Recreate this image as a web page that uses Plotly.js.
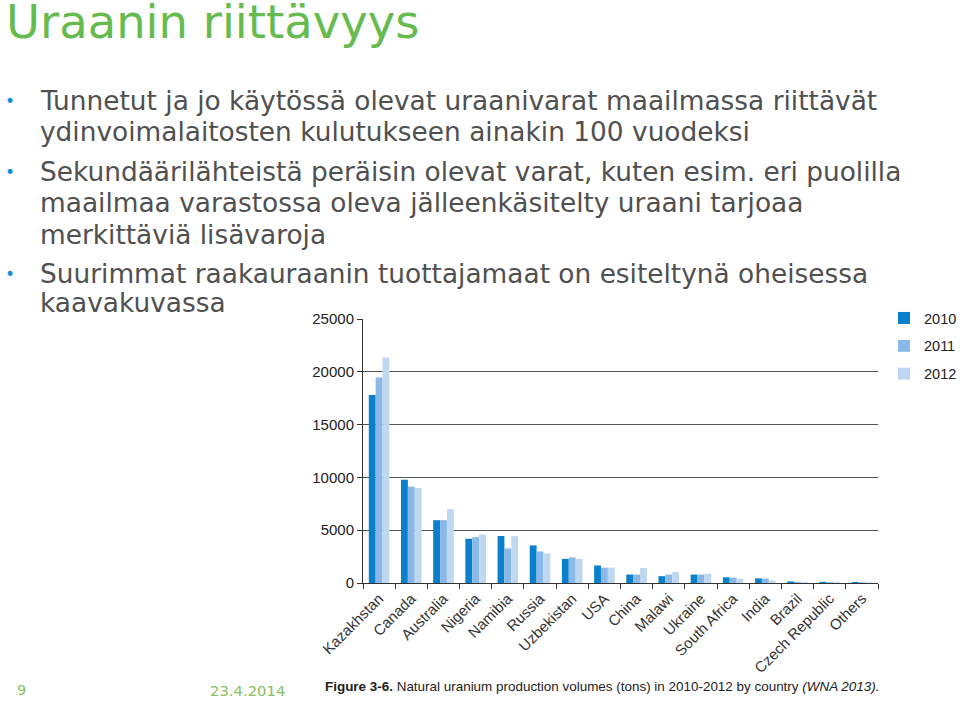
<!DOCTYPE html>
<html>
<head>
<meta charset="utf-8">
<script src="https://cdn.plot.ly/plotly-3.0.1.min.js"></script>
<style>html,body{margin:0;padding:0;background:#fff;}#chart{width:960px;height:702px;}</style>
</head>
<body>
<div id="chart"></div>
<script>
// ---- data ----
var countries = ["Kazakhstan","Canada","Australia","Nigeria","Namibia","Russia","Uzbekistan","USA","China","Malawi","Ukraine","South Africa","India","Brazil","Czech Republic","Others"];
var years = ["2010","2011","2012"];
var prod2010 = [17800, 9780, 5950, 4190, 4450, 3560, 2290, 1660, 800, 650, 800, 540, 440, 150, 110, 100];
var prod2011 = [19470, 9130, 5950, 4340, 3270, 2990, 2430, 1450, 800, 800, 800, 510, 420, 110, 90, 80];
var prod2012 = [21360, 9000, 6990, 4590, 4440, 2800, 2280, 1450, 1420, 1050, 890, 390, 230, 80, 70, 60];
var yTicks = [0, 5000, 10000, 15000, 20000, 25000];

var bulletLines = [
  {t:"Tunnetut ja jo käytössä olevat uraanivarat maailmassa riittävät", b:true},
  {t:"ydinvoimalaitosten kulutukseen ainakin 100 vuodeksi", b:false},
  {t:"Sekundäärilähteistä peräisin olevat varat, kuten esim. eri puolilla", b:true},
  {t:"maailmaa varastossa oleva jälleenkäsitelty uraani tarjoaa", b:false},
  {t:"merkittäviä lisävaroja", b:false},
  {t:"Suurimmat raakauraanin tuottajamaat on esiteltynä oheisessa", b:true},
  {t:"kaavakuvassa", b:false}
];
var titleText = "Uraanin riittävyys";
var caption = "<b>Figure 3-6.</b> Natural uranium production volumes (tons) in 2010-2012 by country <i>(WNA 2013).</i>";
var pageNo = "9";
var dateText = "23.4.2014";

// ---- layout helpers ----
var L = 363, R = 878, T = 319, B = 583.5, Wd = 960, Ht = 702;
function px(x){ return (x - L) / (R - L); }
function py(y){ return (B - y) / (B - T); }

var colors = ["#0a80cc", "#8bb8e6", "#bed8f1"];
var series = [prod2010, prod2011, prod2012];
var traces = series.map(function(v, i){
  return {
    type: "bar", x: countries, y: v, name: years[i],
    marker: {color: colors[i], line: {width: 0}},
    legendgroup: "g" + i, hoverinfo: "x+y+name"
  };
});

var lineY = [100, 131, 171, 202, 234, 273, 302];
var annotations = [];
bulletLines.forEach(function(l, i){
  annotations.push({xref:"paper", yref:"paper", x: px(38), y: py(lineY[i]), xanchor:"left", yanchor:"middle",
    text: l.t, showarrow:false, font:{family:"DejaVu Sans, Verdana, sans-serif", size:26.4, color:"#505050"}});
  if (l.b) annotations.push({xref:"paper", yref:"paper", x: px(10), y: py(lineY[i] + 1), xanchor:"center", yanchor:"middle",
    text:"•", showarrow:false, font:{family:"DejaVu Sans, sans-serif", size:17, color:"#1a8ed4"}});
});
annotations.push({xref:"paper", yref:"paper", x: px(323), y: py(687), xanchor:"left", yanchor:"middle",
  text: caption, showarrow:false, font:{family:"Liberation Sans, Arial, sans-serif", size:13.45, color:"#222"}});
annotations.push({xref:"paper", yref:"paper", x: px(15), y: py(691), xanchor:"left", yanchor:"middle",
  text: pageNo, showarrow:false, font:{family:"DejaVu Sans, Verdana, sans-serif", size:14.5, color:"#86bf62"}});
annotations.push({xref:"paper", yref:"paper", x: px(208), y: py(691), xanchor:"left", yanchor:"middle",
  text: dateText, showarrow:false, font:{family:"DejaVu Sans, Verdana, sans-serif", size:14.8, color:"#86bf62"}});

var layout = {
  width: Wd, height: Ht,
  margin: {l: L, r: Wd - R, t: T, b: Ht - B, autoexpand: false},
  paper_bgcolor: "#fff", plot_bgcolor: "#fff",
  title: {text: titleText, xref:"container", yref:"container", x: 6/Wd, xanchor:"left", y: 1 - 22/Ht, yanchor:"middle",
    font: {family:"DejaVu Sans, Verdana, sans-serif", size: 46.5, color:"#66bb4e"}},
  barmode: "group", bargap: 0.36, bargroupgap: 0,
  showlegend: true,
  legend: {x: px(884), y: py(302), xanchor:"left", yanchor:"top", traceorder:"grouped", tracegroupgap: 6,
    font:{family:"Liberation Sans, Arial, sans-serif", size:14.5, color:"#222"}, bgcolor:"rgba(0,0,0,0)"},
  xaxis: {type:"category", tickangle:-45, ticks:"outside", tickson:"boundaries", ticklen:5, tickcolor:"#333",
    showline:true, linecolor:"#333", linewidth:1, showgrid:false, zeroline:false,
    tickfont:{family:"Liberation Sans, Arial, sans-serif", size:15, color:"#333"}},
  yaxis: {range:[0, 25000], tickvals: yTicks, ticktext: yTicks.map(String), ticks:"outside", ticklen:5, tickcolor:"#333",
    showline:true, linecolor:"#333", linewidth:1, showgrid:true, gridcolor:"#555", gridwidth:1, zeroline:false,
    tickfont:{family:"Liberation Sans, Arial, sans-serif", size:15, color:"#222"}},
  annotations: annotations
};

Plotly.newPlot("chart", traces, layout, {displayModeBar:false, staticPlot:true});
</script>
</body>
</html>
